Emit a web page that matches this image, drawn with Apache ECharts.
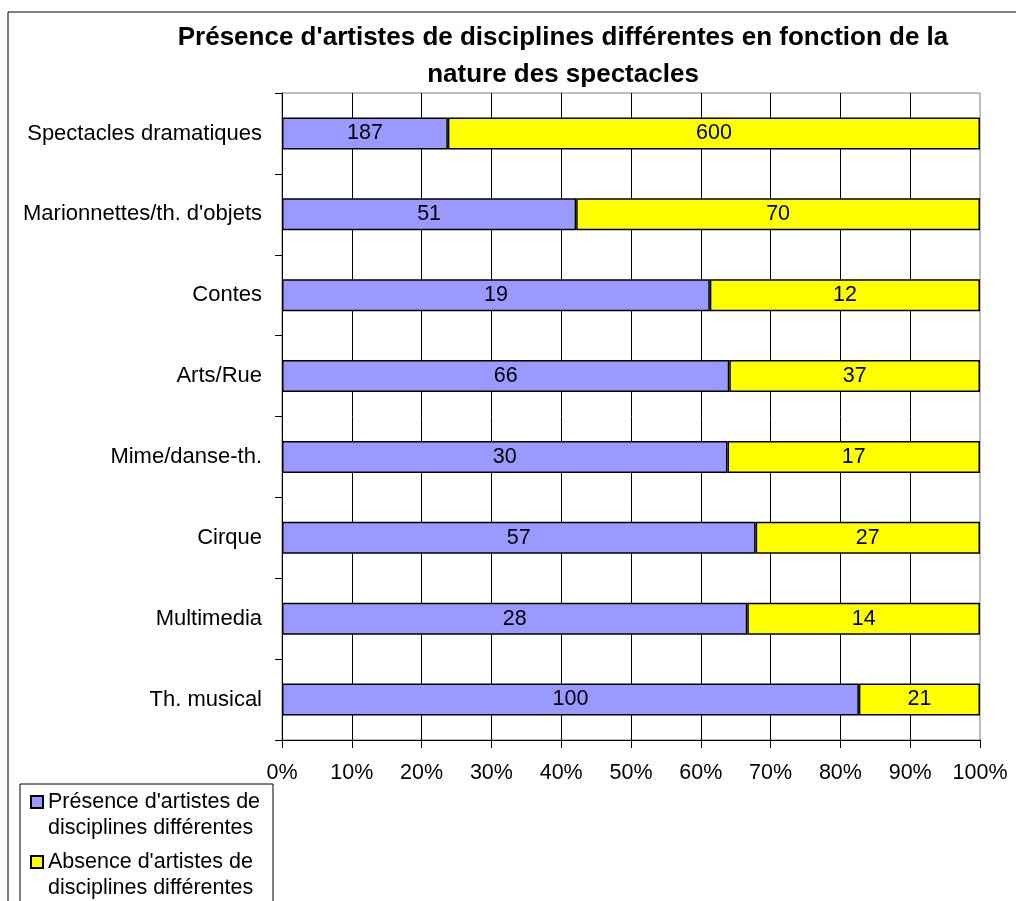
<!DOCTYPE html>
<html>
<head>
<meta charset="utf-8">
<script src="https://cdn.jsdelivr.net/npm/echarts@6/dist/echarts.min.js"></script>
<style>
html,body{margin:0;padding:0;background:#fff;}
#chart{width:1016px;height:901px;}
</style>
</head>
<body>
<div id="chart"></div>
<script>
const categories = ["Spectacles dramatiques", "Marionnettes/th. d'objets", "Contes", "Arts/Rue", "Mime/danse-th.", "Cirque", "Multimedia", "Th. musical"];
const presence = [187, 51, 19, 66, 30, 57, 28, 100];
const absence = [600, 70, 12, 37, 17, 27, 14, 21];
const seriesNames = ["Présence d'artistes de disciplines différentes", "Absence d'artistes de disciplines différentes"];
const xTicks = [0, 10, 20, 30, 40, 50, 60, 70, 80, 90, 100];

const totals = presence.map((v, i) => v + absence[i]);
const toData = arr => arr.map((v, i) => ({ value: v / totals[i] * 100, raw: v }));

const font = "'Liberation Sans', Arial, sans-serif";
const chart = echarts.init(document.getElementById('chart'));
chart.setOption({
  animation: false,
  backgroundColor: '#fff',
  title: {
    text: "Présence d'artistes de disciplines différentes en fonction de la\nnature des spectacles",
    left: 558, top: 14, textAlign: 'center',
    textStyle: { fontFamily: font, fontWeight: 'bold', fontSize: 26, lineHeight: 37, color: '#000' }
  },
  graphic: [{
    type: 'rect', silent: true, z: -1,
    shape: { x: 8, y: 12, width: 1100, height: 1000 },
    style: { fill: 'none', stroke: '#000', lineWidth: 1 }
  }, {
    type: 'rect', silent: true, z: -1,
    shape: { x: 20, y: 784, width: 253, height: 200 },
    style: { fill: 'none', stroke: '#000', lineWidth: 1 }
  }],
  grid: { left: 282, right: 36, top: 93, bottom: 161, show: true, borderColor: '#808080', borderWidth: 1, containLabel: false },
  xAxis: {
    type: 'value', min: xTicks[0], max: xTicks[xTicks.length - 1], interval: 10,
    axisLine: { show: true, lineStyle: { color: '#000', width: 1 } },
    axisTick: { show: true, length: 8, lineStyle: { color: '#000' } },
    axisLabel: { formatter: '{value}%', fontFamily: font, fontSize: 21.5, color: '#000', margin: 22 },
    splitLine: { show: true, showMaxLine: false, lineStyle: { color: '#000', width: 1 } }
  },
  yAxis: {
    type: 'category', data: categories, inverse: true,
    axisLine: { show: true, lineStyle: { color: '#000', width: 1 } },
    axisTick: { show: true, length: 7, lineStyle: { color: '#000' } },
    axisLabel: { fontFamily: font, fontSize: 22, color: '#000', margin: 20 },
    splitLine: { show: false }
  },
  legend: {
    orient: 'vertical', left: 30, top: 763, height: 400,
    data: seriesNames,
    borderWidth: 0,
    padding: 0,
    itemWidth: 12, itemHeight: 12, itemGap: -18,
    icon: 'rect',
    formatter: n => '\n' + n.replace(' disciplines', '\ndisciplines'),
    textStyle: { fontFamily: font, fontSize: 21.5, lineHeight: 26, color: '#000' }
  },
  series: [
    {
      name: seriesNames[0], type: 'bar', stack: 'total', barWidth: 32,
      data: toData(presence),
      itemStyle: { color: '#9999FF', borderColor: '#000', borderWidth: 1.5 },
      label: { show: true, position: 'inside', formatter: p => p.data.raw, fontFamily: font, fontSize: 21.5, color: '#000' }
    },
    {
      name: seriesNames[1], type: 'bar', stack: 'total', barWidth: 32,
      data: toData(absence),
      itemStyle: { color: '#FFFF00', borderColor: '#000', borderWidth: 1.5 },
      label: { show: true, position: 'inside', formatter: p => p.data.raw, fontFamily: font, fontSize: 21.5, color: '#000' }
    }
  ]
});
</script>
</body>
</html>
